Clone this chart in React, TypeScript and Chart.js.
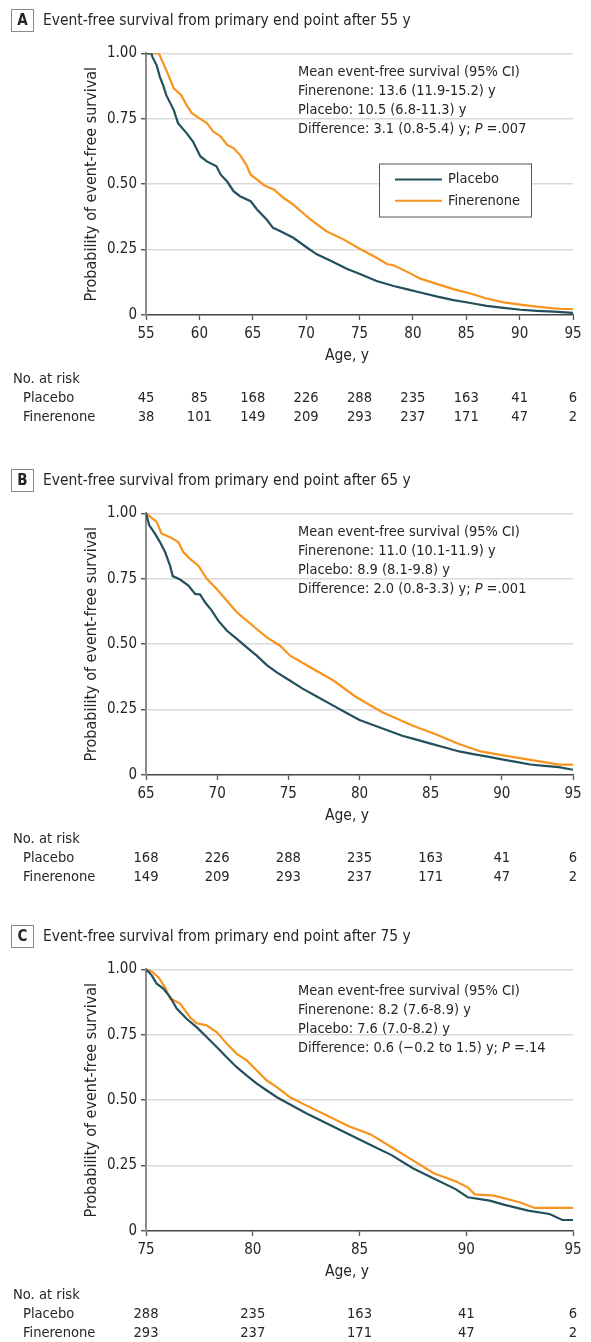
import React, { useEffect, useRef } from "react";
import { Chart, registerables } from "chart.js";

Chart.register(...registerables);

const FONT = "'DejaVu Sans Condensed', 'DejaVu Sans', sans-serif";
const TEXT = "#262626";
const PLACEBO_COLOR = "#22505d";
const FINERENONE_COLOR = "#f7941d";

const seriesLabels = ["Placebo", "Finerenone"];

// ---------- Panel A: after 55 y ----------
const ageAPlacebo = [55.0, 55.5, 55.6, 56.0, 56.3, 56.6, 56.9, 57.6, 58.0, 58.8, 59.4, 60.1, 60.7, 61.6, 62.0, 62.6, 63.2, 63.8, 64.8, 65.4, 66.3, 66.9, 67.6, 68.8, 70.1, 71.0, 72.3, 73.8, 75.1, 76.6, 78.2, 79.7, 80.7, 82.3, 83.8, 85.4, 86.9, 88.5, 90.1, 91.6, 93.2, 95.0];
const survAPlacebo = [1.0, 1.0, 0.986, 0.954, 0.91, 0.878, 0.84, 0.783, 0.733, 0.695, 0.663, 0.606, 0.587, 0.568, 0.536, 0.51, 0.473, 0.454, 0.435, 0.403, 0.365, 0.333, 0.32, 0.295, 0.257, 0.232, 0.207, 0.177, 0.156, 0.13, 0.111, 0.096, 0.086, 0.07, 0.057, 0.046, 0.035, 0.027, 0.02, 0.016, 0.013, 0.008];
const ageAFinerenone = [55.0, 56.2, 56.7, 57.1, 57.6, 58.3, 58.8, 59.3, 59.9, 60.7, 61.3, 62.0, 62.6, 63.2, 63.8, 64.4, 64.8, 65.2, 66.1, 67.0, 67.9, 68.8, 70.4, 71.9, 73.5, 75.1, 76.6, 77.6, 78.2, 79.7, 80.7, 82.3, 83.8, 85.4, 86.9, 88.5, 90.4, 91.6, 93.2, 94.0, 95.0];
const survAFinerenone = [1.0, 1.0, 0.954, 0.916, 0.866, 0.84, 0.802, 0.771, 0.754, 0.733, 0.701, 0.682, 0.65, 0.638, 0.612, 0.574, 0.536, 0.524, 0.495, 0.479, 0.447, 0.422, 0.365, 0.32, 0.289, 0.251, 0.219, 0.194, 0.19, 0.16, 0.139, 0.118, 0.099, 0.082, 0.063, 0.048, 0.038, 0.032, 0.025, 0.023, 0.023];
const riskAgesA = [55, 60, 65, 70, 75, 80, 85, 90, 95];
const riskAPlacebo = [45, 85, 168, 226, 288, 235, 163, 41, 6];
const riskAFinerenone = [38, 101, 149, 209, 293, 237, 171, 47, 2];
const statsA = [
  ["Mean event-free survival (95% CI)"],
  ["Finerenone: 13.6 (11.9-15.2) y"],
  ["Placebo: 10.5 (6.8-11.3) y"],
  ["Difference: 3.1 (0.8-5.4) y; ", "P", " =.007"],
];

// ---------- Panel B: after 65 y ----------
const ageBPlacebo = [65.0, 65.23, 65.63, 65.98, 66.34, 66.69, 66.88, 67.39, 67.98, 68.45, 68.8, 69.15, 69.62, 70.08, 70.67, 71.38, 72.08, 72.78, 73.49, 74.19, 75.13, 76, 77, 78, 79, 80, 81, 82, 83, 84, 85, 86, 87, 88, 89, 90, 91, 92, 93, 94, 95];
const survBPlacebo = [1.0, 0.954, 0.922, 0.89, 0.852, 0.8, 0.76, 0.747, 0.724, 0.692, 0.69, 0.66, 0.628, 0.59, 0.552, 0.52, 0.488, 0.456, 0.42, 0.392, 0.36, 0.33, 0.3, 0.27, 0.24, 0.21, 0.19, 0.17, 0.15, 0.135, 0.12, 0.105, 0.09, 0.08, 0.07, 0.06, 0.05, 0.04, 0.035, 0.03, 0.02];
const ageBFinerenone = [65.0, 65.75, 66.1, 66.69, 67.27, 67.62, 68.09, 68.68, 69.27, 69.97, 70.67, 71.38, 72.08, 72.78, 73.49, 74.42, 75.13, 76.6, 78.2, 79.7, 81.6, 83.8, 85.4, 86.9, 88.5, 90.4, 93.2, 94.0, 95.0];
const survBFinerenone = [1.0, 0.967, 0.922, 0.909, 0.89, 0.852, 0.826, 0.8, 0.75, 0.711, 0.667, 0.622, 0.59, 0.558, 0.526, 0.494, 0.456, 0.41, 0.36, 0.3, 0.24, 0.187, 0.155, 0.12, 0.09, 0.072, 0.047, 0.04, 0.04];
const riskAgesB = [65, 70, 75, 80, 85, 90, 95];
const riskBPlacebo = [168, 226, 288, 235, 163, 41, 6];
const riskBFinerenone = [149, 209, 293, 237, 171, 47, 2];
const statsB = [
  ["Mean event-free survival (95% CI)"],
  ["Finerenone: 11.0 (10.1-11.9) y"],
  ["Placebo: 8.9 (8.1-9.8) y"],
  ["Difference: 2.0 (0.8-3.3) y; ", "P", " =.001"],
];

// ---------- Panel C: after 75 y ----------
const ageCPlacebo = [75, 75.27, 75.5, 75.81, 76.13, 76.44, 76.9, 77.37, 77.84, 78.31, 78.78, 79.25, 79.72, 80.19, 80.66, 81.13, 81.6, 82.5, 83.5, 84.5, 85.5, 86.5, 87.5, 88.5, 89.5, 90.07, 91.1, 91.8, 92.9, 93.9, 94.5, 95];
const survCPlacebo = [1.0, 0.977, 0.945, 0.926, 0.894, 0.85, 0.811, 0.779, 0.741, 0.703, 0.664, 0.626, 0.594, 0.563, 0.537, 0.511, 0.49, 0.45, 0.41, 0.37, 0.33, 0.29, 0.24, 0.2, 0.16, 0.129, 0.116, 0.1, 0.078, 0.065, 0.042, 0.042];
const ageCFinerenone = [75, 75.3, 75.58, 75.9, 76.13, 76.6, 77.06, 77.37, 77.84, 78.31, 78.78, 79.25, 79.72, 80.19, 80.66, 81.13, 81.75, 82.5, 83.5, 84.5, 85.5, 86.5, 87.5, 88.5, 89.5, 90.07, 90.4, 91.3, 92.5, 93.2, 95];
const survCFinerenone = [1.0, 0.99, 0.97, 0.93, 0.888, 0.869, 0.817, 0.794, 0.786, 0.76, 0.716, 0.677, 0.652, 0.613, 0.575, 0.55, 0.511, 0.48, 0.44, 0.4, 0.37, 0.32, 0.27, 0.22, 0.19, 0.167, 0.14, 0.135, 0.11, 0.088, 0.088];
const riskAgesC = [75, 80, 85, 90, 95];
const riskCPlacebo = [288, 235, 163, 41, 6];
const riskCFinerenone = [293, 237, 171, 47, 2];
const statsC = [
  ["Mean event-free survival (95% CI)"],
  ["Finerenone: 8.2 (7.6-8.9) y"],
  ["Placebo: 7.6 (7.0-8.2) y"],
  ["Difference: 0.6 (\u22120.2 to 1.5) y; ", "P", " =.14"],
];

type PanelSpec = {
  letter: string;
  title: string;
  height: number;
  xmin: number;
  xmax: number;
  placebo: [number[], number[]];
  finerenone: [number[], number[]];
  riskAges: number[];
  riskPlacebo: number[];
  riskFinerenone: number[];
  stats: string[][];
  statsY: number;
  showLegend: boolean;
};

const panels: PanelSpec[] = [
  {
    letter: "A",
    title: "Event-free survival from primary end point after 55 y",
    height: 460,
    xmin: 55,
    xmax: 95,
    placebo: [ageAPlacebo, survAPlacebo],
    finerenone: [ageAFinerenone, survAFinerenone],
    riskAges: riskAgesA,
    riskPlacebo: riskAPlacebo,
    riskFinerenone: riskAFinerenone,
    stats: statsA,
    statsY: 72,
    showLegend: true,
  },
  {
    letter: "B",
    title: "Event-free survival from primary end point after 65 y",
    height: 456,
    xmin: 65,
    xmax: 95,
    placebo: [ageBPlacebo, survBPlacebo],
    finerenone: [ageBFinerenone, survBFinerenone],
    riskAges: riskAgesB,
    riskPlacebo: riskBPlacebo,
    riskFinerenone: riskBFinerenone,
    stats: statsB,
    statsY: 72,
    showLegend: false,
  },
  {
    letter: "C",
    title: "Event-free survival from primary end point after 75 y",
    height: 426,
    xmin: 75,
    xmax: 95,
    placebo: [ageCPlacebo, survCPlacebo],
    finerenone: [ageCFinerenone, survCFinerenone],
    riskAges: riskAgesC,
    riskPlacebo: riskCPlacebo,
    riskFinerenone: riskCFinerenone,
    stats: statsC,
    statsY: 75,
    showLegend: false,
  },
];

const CHART_TOP = 53.3;
const CHART_BOTTOM = 315;
const CHART_LEFT = 146;
const CHART_RIGHT = 573;
const Y_AXIS_W = 60;
const X_AXIS_H = 40;

function toPoints(xs: number[], ys: number[]) {
  return xs.map((x, i) => ({ x, y: ys[i] }));
}

function makeAnnotPlugin(spec: PanelSpec) {
  return {
    id: "annot" + spec.letter,
    afterDatasetsDraw(chart: any) {
      const ctx: CanvasRenderingContext2D = chart.ctx;
      const xs = chart.scales.x;
      const area = chart.chartArea;
      ctx.save();
      ctx.fillStyle = TEXT;
      ctx.textBaseline = "middle";

      // panel letter box and title
      ctx.strokeStyle = "#8a8a8a";
      ctx.lineWidth = 1;
      ctx.strokeRect(11.5, 9.5, 22, 22);
      ctx.font = `bold 15px ${FONT}`;
      ctx.textAlign = "center";
      ctx.fillText(spec.letter, 22.5, 21);
      ctx.font = `15.4px ${FONT}`;
      ctx.textAlign = "left";
      ctx.fillText(spec.title, 43, 21);

      // y axis title
      ctx.save();
      ctx.translate(92, (area.top + area.bottom) / 2);
      ctx.rotate(-Math.PI / 2);
      ctx.textAlign = "center";
      ctx.font = `16px ${FONT}`;
      ctx.fillText("Probability of event-free survival", 0, 0);
      ctx.restore();

      // x axis title
      ctx.textAlign = "center";
      ctx.font = `15.5px ${FONT}`;
      ctx.fillText("Age, y", 347, 356);

      // stats text
      ctx.textAlign = "left";
      spec.stats.forEach((segs, i) => {
        let x = 298;
        const y = spec.statsY + i * 19;
        segs.forEach((s, j) => {
          ctx.font = `${j % 2 === 1 ? "italic " : ""}14.45px ${FONT}`;
          ctx.fillText(s, x, y);
          x += ctx.measureText(s).width;
        });
      });

      // legend
      if (spec.showLegend) {
        const bx = 379, by = 163.5, bw = 152, bh = 53;
        ctx.fillStyle = "#ffffff";
        ctx.fillRect(bx, by, bw, bh);
        ctx.strokeStyle = "#555555";
        ctx.lineWidth = 1;
        ctx.strokeRect(bx + 0.5, by + 0.5, bw, bh);
        const colors = [PLACEBO_COLOR, FINERENONE_COLOR];
        seriesLabels.forEach((lab, i) => {
          const ly = 179.5 + i * 21.3;
          ctx.strokeStyle = colors[i];
          ctx.lineWidth = 2;
          ctx.beginPath();
          ctx.moveTo(395, ly);
          ctx.lineTo(442, ly);
          ctx.stroke();
          ctx.fillStyle = TEXT;
          ctx.font = `14.5px ${FONT}`;
          ctx.fillText(lab, 448, ly);
        });
      }

      // number at risk table
      ctx.fillStyle = TEXT;
      ctx.font = `14.6px ${FONT}`;
      ctx.textAlign = "left";
      ctx.fillText("No. at risk", 13, 379);
      ctx.fillText(seriesLabels[0], 23, 398.5);
      ctx.fillText(seriesLabels[1], 23, 417.5);
      ctx.textAlign = "center";
      spec.riskAges.forEach((a, i) => {
        const px = xs.getPixelForValue(a);
        ctx.fillText(String(spec.riskPlacebo[i]), px, 398.5);
        ctx.fillText(String(spec.riskFinerenone[i]), px, 417.5);
      });
      ctx.restore();
    },
  };
}

function KMPanel({ spec }: { spec: PanelSpec }) {
  const ref = useRef<HTMLCanvasElement | null>(null);
  useEffect(() => {
    if (!ref.current) return;
    const chart = new Chart(ref.current, {
      type: "line",
      data: {
        datasets: [
          {
            label: seriesLabels[0],
            data: toPoints(spec.placebo[0], spec.placebo[1]),
            borderColor: PLACEBO_COLOR,
            borderWidth: 2.2,
            pointRadius: 0,
            tension: 0,
          },
          {
            label: seriesLabels[1],
            data: toPoints(spec.finerenone[0], spec.finerenone[1]),
            borderColor: FINERENONE_COLOR,
            borderWidth: 2.2,
            pointRadius: 0,
            tension: 0,
          },
        ],
      },
      options: {
        animation: false,
        responsive: true,
        maintainAspectRatio: false,
        events: [],
        layout: {
          padding: {
            left: CHART_LEFT - Y_AXIS_W,
            right: 591 - CHART_RIGHT,
            top: CHART_TOP,
            bottom: spec.height - CHART_BOTTOM - X_AXIS_H,
          },
        },
        plugins: {
          legend: { display: false },
          tooltip: { enabled: false },
          title: { display: false },
        },
        scales: {
          x: {
            type: "linear",
            min: spec.xmin,
            max: spec.xmax,
            afterFit: (s: any) => {
              s.height = X_AXIS_H;
            },
            ticks: {
              stepSize: 5,
              color: TEXT,
              font: { family: FONT, size: 15 },
              padding: 5,
              maxRotation: 0,
            },
            grid: {
              drawOnChartArea: false,
              drawTicks: true,
              tickLength: 5,
              tickColor: "#555555",
              tickWidth: 1.3,
            },
            border: { display: true, color: "#444444", width: 1.6 },
          },
          y: {
            min: 0,
            max: 1,
            afterFit: (s: any) => {
              s.width = Y_AXIS_W;
            },
            ticks: {
              stepSize: 0.25,
              color: TEXT,
              font: { family: FONT, size: 15 },
              padding: 4,
              callback: (v: any) => (Number(v) === 0 ? "0" : Number(v).toFixed(2)),
            },
            grid: {
              color: (c: any) => (c.tick && c.tick.value === 0 ? "rgba(0,0,0,0)" : "#dadada"),
              lineWidth: 1.5,
              drawTicks: true,
              tickLength: 5,
              tickColor: "#444444",
              tickWidth: 1.3,
            },
            border: { display: true, color: "#8c8c8c", width: 2 },
          },
        },
      },
      plugins: [makeAnnotPlugin(spec)],
    } as any);
    return () => chart.destroy();
  }, [spec]);
  return (
    <div style={{ position: "relative", width: 591, height: spec.height }}>
      <canvas ref={ref} />
    </div>
  );
}

export default function App() {
  return (
    <div style={{ width: 591, background: "#ffffff" }}>
      <style>{`body{margin:0;background:#fff;}`}</style>
      {panels.map((p) => (
        <KMPanel key={p.letter} spec={p} />
      ))}
    </div>
  );
}
